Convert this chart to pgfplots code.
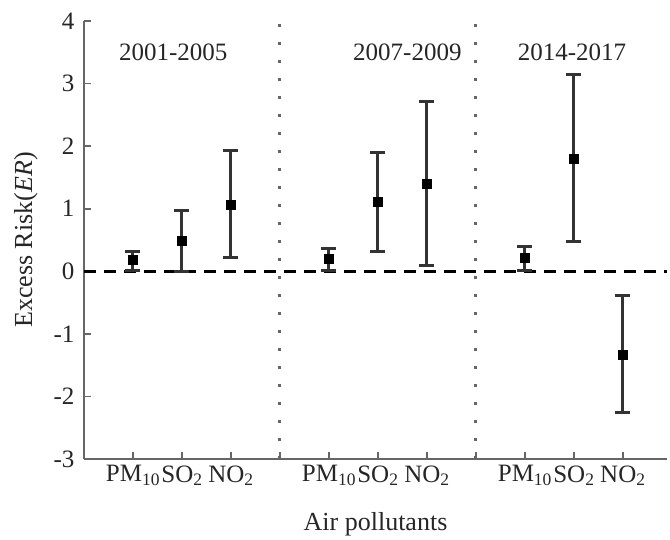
\documentclass[border=0pt]{standalone}
\usepackage{fontspec}
\setmainfont{Liberation Serif}
\usepackage{pgfplots}
\pgfplotsset{compat=1.18}
\usepackage{pgfplotstable}
\pgfplotstableread{
x y ep em
1 0.19 0.13 0.17
2 0.49 0.48 0.49
3 1.07 0.86 0.85
5 0.20 0.17 0.18
6 1.11 0.79 0.80
7 1.40 1.32 1.30
9 0.21 0.18 0.19
10 1.80 1.35 1.32
11 -1.34 0.96 0.92
}\datatable
\begin{document}
\begin{tikzpicture}
\begin{axis}[
  name=ax,
  scale only axis,
  width=583pt, height=438pt,
  xmin=0, xmax=11.9, ymin=-3, ymax=4,
  axis x line=bottom, axis y line=left,
  axis line style={-, line width=2.5pt, black!60},
  xtick={1,...,11},
  xticklabels={PM\textsubscript{10},SO\textsubscript{2},NO\textsubscript{2},,PM\textsubscript{10},SO\textsubscript{2},NO\textsubscript{2},,PM\textsubscript{10},SO\textsubscript{2},NO\textsubscript{2}},
  ytick={-3,...,4},
  tick style={line width=1.8pt, black!60},
  major tick length=7pt,
  tick align=inside,
  /pgf/number format/assume math mode=true,
  ticklabel style={font=\fontsize{25}{28}\selectfont, text=black!85},
  xticklabel style={yshift=-3pt},
  yticklabel style={xshift=-6pt},
  xlabel={Air pollutants},
  ylabel={Excess Risk(\textit{ER})},
  label style={font=\fontsize{26}{30}\selectfont, text=black!85},
  xlabel style={yshift=-20pt},
  ylabel style={yshift=9pt},
  clip=false,
]
\addplot[black, line width=3pt, dash pattern=on 12pt off 8pt] coordinates {(0,0) (11.9,0)};
\addplot[black!60, line width=3pt, dash pattern=on 3pt off 15pt] coordinates {(4,-3) (4,4.1)};
\addplot[black!60, line width=3pt, dash pattern=on 3pt off 15pt] coordinates {(8,-3) (8,4.1)};
\addplot[only marks, mark=square*, mark size=4.5pt, black,
  error bars/.cd, y dir=both, y explicit,
  error bar style={line width=3pt, black!80},
  error mark options={rotate=90, mark size=7.5pt, line width=3pt, black!80}]
  table[x=x, y=y, y error plus=ep, y error minus=em] {\datatable};
\node[font=\fontsize{25}{28}\selectfont, text=black!85] at (axis cs:1.82,3.5) {2001-2005};
\node[font=\fontsize{25}{28}\selectfont, text=black!85] at (axis cs:6.6,3.5) {2007-2009};
\node[font=\fontsize{25}{28}\selectfont, text=black!85] at (axis cs:9.96,3.5) {2014-2017};
\end{axis}
\pgfresetboundingbox
\path ([xshift=-84pt,yshift=-81pt]ax.south west) rectangle ([xshift=3pt,yshift=21pt]ax.north east);
\end{tikzpicture}
\end{document}
